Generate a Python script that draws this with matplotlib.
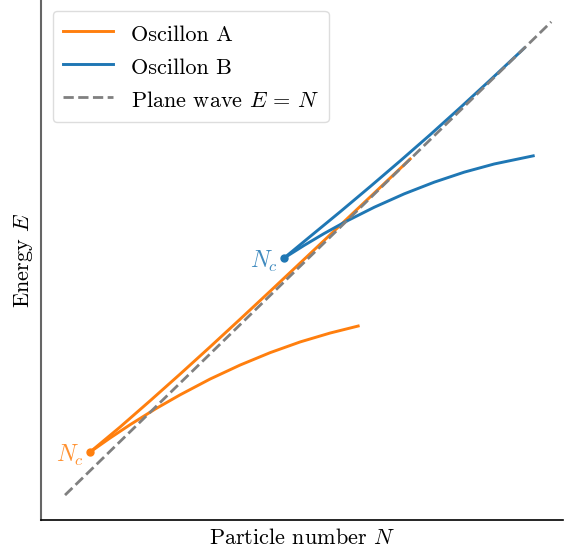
import matplotlib
matplotlib.use("Agg")
import matplotlib.pyplot as plt

plt.rcParams['font.family'] = 'serif'
plt.rcParams['font.serif'] = ['cmr10']
plt.rcParams['mathtext.fontset'] = 'cm'
plt.rcParams['axes.unicode_minus'] = False

# Oscillon A (orange)
a_upper_N = [0.939, 1.513, 2.088, 2.663, 3.238, 3.812, 4.387, 4.962, 5.728, 6.398, 7.069]
a_upper_E = [1.306, 1.798, 2.314, 2.840, 3.376, 3.920, 4.470, 5.025, 5.767, 6.418, 7.072]
a_lower_N = [0.939, 1.322, 1.705, 2.184, 2.663, 3.238, 3.812, 4.387, 4.962, 5.536, 6.073]
a_lower_E = [1.306, 1.582, 1.844, 2.151, 2.432, 2.743, 3.018, 3.262, 3.473, 3.648, 3.786]

# Oscillon B (blue)
b_upper_N = [4.655, 5.153, 5.728, 6.303, 6.877, 7.452, 8.027, 8.602, 9.253]
b_upper_E = [5.124, 5.547, 6.033, 6.529, 7.034, 7.550, 8.082, 8.626, 9.253]
b_lower_N = [4.655, 5.038, 5.421, 5.824, 6.379, 6.954, 7.529, 8.103, 8.678, 9.425]
b_lower_E = [5.124, 5.372, 5.606, 5.835, 6.122, 6.386, 6.616, 6.813, 6.974, 7.134]

# plane wave E = N
pw_N = [0.46, 9.77]

orange = '#ff7f0e'
blue = '#1f77b4'

fig = plt.figure(figsize=(5.64, 5.54), dpi=100)
ax = fig.add_axes([0.0727, 0.0614, 0.926, 0.9386])

ax.plot(a_upper_N, a_upper_E, color=orange, lw=2.1, label='Oscillon A')
ax.plot(a_lower_N, a_lower_E, color=orange, lw=2.1)
ax.plot(b_upper_N, b_upper_E, color=blue, lw=2.1, label='Oscillon B')
ax.plot(b_lower_N, b_lower_E, color=blue, lw=2.1)
ax.plot(pw_N, pw_N, '--', color='gray', lw=2, label='Plane wave $E\\,=\\,N$')

ax.plot(a_upper_N[0], a_upper_E[0], 'o', color=orange, ms=5)
ax.plot(b_upper_N[0], b_upper_E[0], 'o', color=blue, ms=5)
ax.text(a_upper_N[0] - 0.12, a_upper_E[0] - 0.06, '$N_c$', color=orange,
        alpha=0.85, fontsize=17, ha='right', va='center')
ax.text(b_upper_N[0] - 0.12, b_upper_E[0] - 0.06, '$N_c$', color=blue,
        alpha=0.85, fontsize=17, ha='right', va='center')

ax.set_xlim(0, 10)
ax.set_ylim(-0.03, 10.2)
ax.set_xticks([])
ax.set_yticks([])
ax.spines['top'].set_visible(False)
ax.spines['right'].set_visible(False)
ax.spines['left'].set_color('#666666')
ax.spines['left'].set_linewidth(1.5)
ax.spines['bottom'].set_linewidth(1.2)

ax.set_xlabel('Particle number $N$', fontsize=16, labelpad=6)
ax.set_ylabel('Energy $E$', fontsize=16, labelpad=4)

ax.legend(loc='upper left', bbox_to_anchor=(0.023, 0.979), borderaxespad=0,
          fontsize=16, handlelength=2.25, handleheight=1.4, labelspacing=0.32,
          borderpad=0.45, edgecolor='#dddddd', framealpha=1)

fig.savefig('out.png', dpi=100)
